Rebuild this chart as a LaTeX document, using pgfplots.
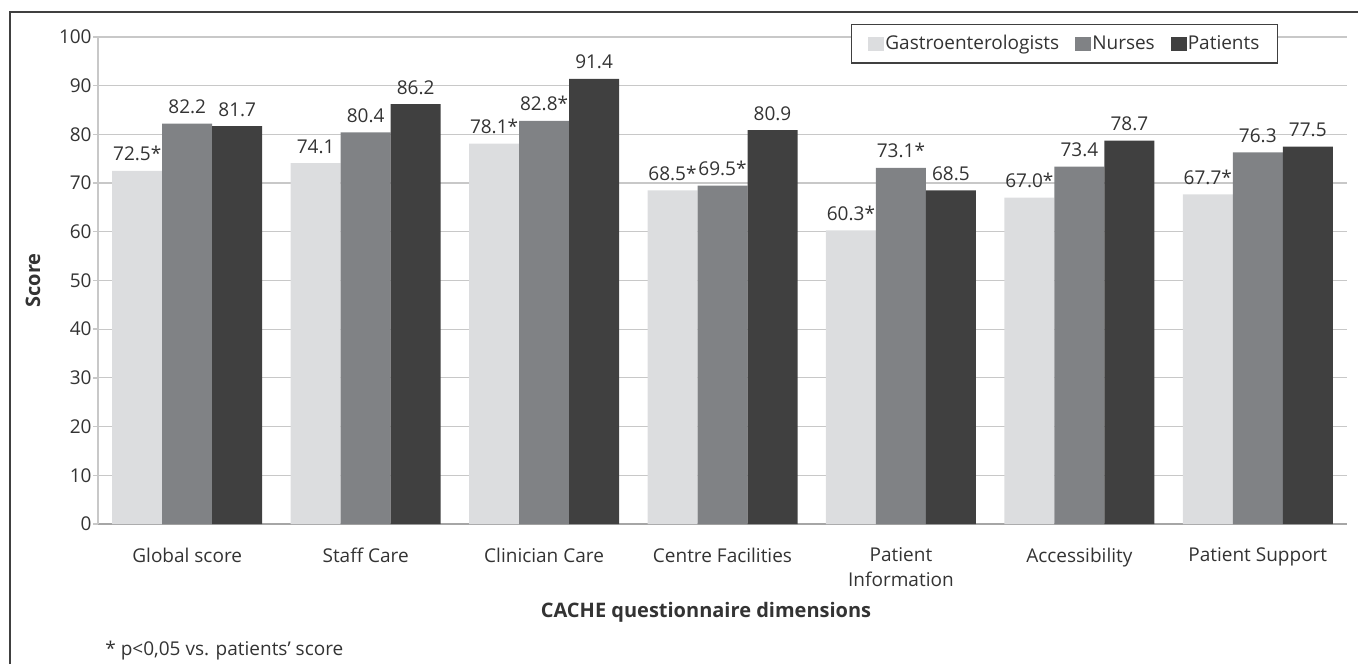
\documentclass[border=0pt]{standalone}
\usepackage{pgfplots}
\pgfplotsset{compat=1.18}
\usepackage{pgfplotstable}
\usepackage{fontspec}
\setmainfont{Open Sans}
\definecolor{cgastro}{HTML}{DCDDDF}
\definecolor{cnurse}{HTML}{808285}
\definecolor{cpat}{HTML}{404040}
\definecolor{gridc}{HTML}{C8C8C8}
\definecolor{axc}{HTML}{A6A6A6}
\definecolor{txt}{HTML}{333333}
\definecolor{framec}{HTML}{404040}

\pgfplotstableread{
x g gl n nl p pl
0 72.5 72.5* 82.2 82.2 81.7 81.7
1 74.1 74.1 80.4 80.4 86.2 86.2
2 78.1 78.1* 82.8 82.8* 91.4 91.4
3 68.5 68.5* 69.5 69.5* 80.9 80.9
4 60.3 60.3* 73.1 73.1* 68.5 68.5
5 67.0 67.0* 73.4 73.4 78.7 78.7
6 67.7 67.7* 76.3 76.3 77.5 77.5
}\data

\begin{document}
\begin{tikzpicture}
\useasboundingbox (0,0) rectangle (679pt,332pt);
\draw[framec, line width=1pt] (5pt,0pt) -- (5pt,326pt) -- (679pt,326pt);
\begin{axis}[
  at={(49pt,70pt)}, anchor=south west,
  scale only axis, width=624.5pt, height=243.5pt,
  font=\fontsize{9.5}{12.5}\selectfont,
  /pgf/number format/assume math mode=true,
  ybar=0pt, bar width=25pt,
  xmin=-0.5, xmax=6.5, ymin=0, ymax=100,
  enlargelimits=false,
  xtick={0,...,6},
  xticklabels={Global score, Staff Care, Clinician Care, Centre Facilities, {Patient\\Information}, Accessibility, Patient Support},
  xticklabel style={align=center, anchor=north, inner sep=0pt, yshift=-9.1pt, text=txt},
  ytick={0,10,...,100},
  yticklabel style={inner sep=0pt, xshift=-0.5pt, text=txt},
  axis x line*=bottom, axis y line*=left,
  x axis line style={draw=axc, line width=0.7pt},
  y axis line style={draw=gridc, line width=0.7pt},
  tick align=outside, major tick length=2.5pt,
  x tick style={draw=none},
  y tick style={draw=gridc, line width=0.7pt},
  ymajorgrids, grid style={draw=gridc, line width=0.6pt},
  every axis y label/.style={at={(rel axis cs:0,0.5)}, xshift=-32.5pt, rotate=90, anchor=center, font=\fontsize{10}{12}\bfseries, text=txt},
  every axis x label/.style={at={(rel axis cs:0.4868,0)}, anchor=base, yshift=-46.5pt, font=\fontsize{10}{12}\bfseries, text=txt},
  ylabel={Score},
  xlabel={CACHE questionnaire dimensions},
  nodes near coords,
  point meta=explicit symbolic,
  every node near coord/.append style={anchor=base, yshift=5pt, inner sep=0pt, text=txt, font=\fontsize{9.5}{12}\selectfont},
  legend image code/.code={\fill[#1,draw=none] (0pt,-0.5pt) rectangle (8pt,6.5pt);},
  legend style={at={(0.94476,1.02669)}, anchor=north east, draw=framec, line width=0.6pt, fill=white,
    legend columns=3, inner xsep=8.5pt, inner ysep=4.75pt,
    nodes={inner sep=0.5pt, anchor=base, text=txt},
    font=\fontsize{9.5}{12}\selectfont,
    /tikz/every even column/.append style={column sep=7.5pt}},
  legend cell align=left,
]
\addplot[fill=cgastro, draw=none] table[x=x, y=g, meta=gl] {\data};
\addplot[fill=cnurse, draw=none] table[x=x, y=n, meta=nl] {\data};
\addplot[fill=cpat, draw=none] table[x=x, y=p, meta=pl] {\data};
\legend{Gastroenterologists,Nurses,Patients}
\end{axis}
\node[anchor=base west, inner sep=0pt, font=\fontsize{9.5}{12}\selectfont, text=txt] at (52.5pt,4.5pt) {* p<0,05 vs. patients’ score};
\end{tikzpicture}
\end{document}
